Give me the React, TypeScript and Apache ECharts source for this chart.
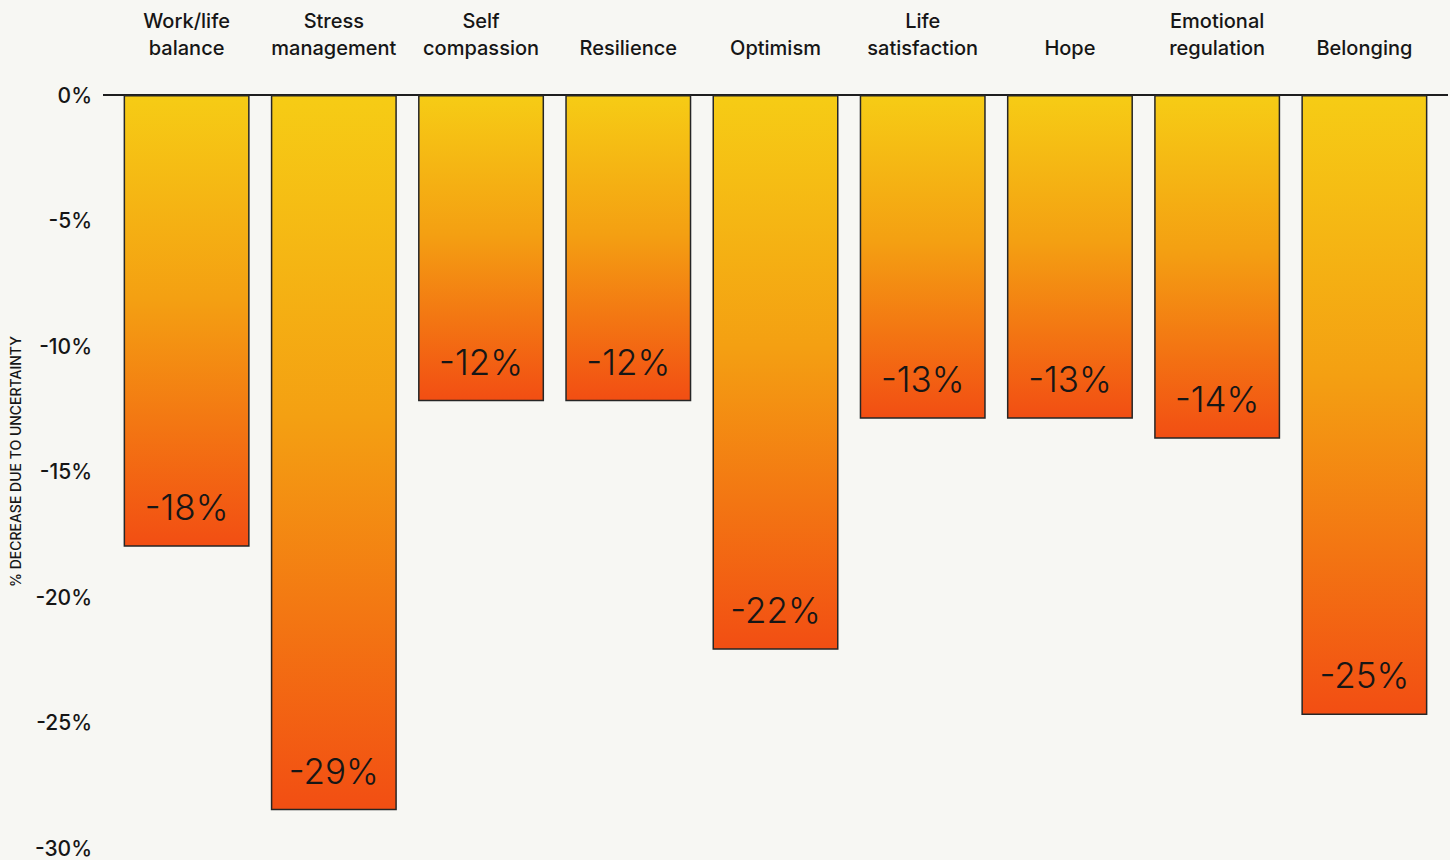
import React, { useEffect, useRef } from "react";
import * as echarts from "echarts";

// Wellbeing dimensions and the share each one dropped under uncertainty
const categories = [
  "Work/life\nbalance",
  "Stress\nmanagement",
  "Self\ncompassion",
  "Resilience",
  "Optimism",
  "Life\nsatisfaction",
  "Hope",
  "Emotional\nregulation",
  "Belonging",
];
const decreases = [-18.0, -28.5, -12.2, -12.2, -22.1, -12.9, -12.9, -13.7, -24.7];

const axisMin = -30;
const axisMax = 0;
const axisStep = 5;
const axisTitle = "% DECREASE DUE TO UNCERTAINTY";

const FONT = "Inter, 'Noto Sans', sans-serif";
const INK = "#161616";
const BG = "#f7f7f3";

export default function App() {
  const ref = useRef<HTMLDivElement>(null);

  useEffect(() => {
    if (!ref.current) return;
    const chart = echarts.init(ref.current, undefined, { renderer: "svg" });

    const barFill = new echarts.graphic.LinearGradient(0, 0, 0, 1, [
      { offset: 0, color: "#f6cc15" },
      { offset: 0.45, color: "#f4a012" },
      { offset: 1, color: "#f24e13" },
    ]);

    chart.setOption({
      animation: false,
      backgroundColor: BG,
      grid: {
        left: 113,
        right: 12,
        top: 95,
        bottom: 12,
        containLabel: false,
        outerBoundsMode: "none",
      },
      xAxis: {
        type: "category",
        position: "top",
        data: categories,
        axisLine: { show: false },
        axisTick: { show: false },
        axisLabel: {
          interval: 0,
          margin: 34,
          fontFamily: FONT,
          fontSize: 20,
          fontWeight: 500,
          lineHeight: 27,
          color: INK,
        },
      },
      yAxis: {
        type: "value",
        min: axisMin,
        max: axisMax,
        interval: axisStep,
        name: axisTitle,
        nameLocation: "middle",
        nameGap: 91,
        nameRotate: 90,
        nameTextStyle: {
          fontFamily: FONT,
          fontSize: 14,
          fontWeight: 500,
          color: INK,
          padding: [0, 0, 0, 20],
        },
        axisLine: { show: false },
        axisTick: { show: false },
        splitLine: { show: false },
        axisLabel: {
          margin: 21,
          fontFamily: FONT,
          fontSize: 21,
          fontWeight: 500,
          color: INK,
          formatter: (v: number) => `${v}%`,
        },
      },
      graphic: [
        {
          type: "line",
          z: 0,
          shape: { x1: 103, y1: 95, x2: 1448, y2: 95 },
          style: { stroke: "#1e1e1e", lineWidth: 2 },
        },
      ],
      series: [
        {
          type: "bar",
          data: decreases,
          barWidth: 126,
          z: 3,
          itemStyle: {
            color: barFill,
            borderColor: "#262626",
            borderWidth: 1.5,
          },
          label: {
            show: true,
            position: "insideBottom",
            distance: 22,
            fontFamily: FONT,
            fontSize: 35,
            fontWeight: 300,
            color: INK,
            formatter: (p: any) => `-${Math.round(Math.abs(p.value))}%`,
          },
        },
      ],
    });

    return () => chart.dispose();
  }, []);

  return (
    <div
      ref={ref}
      style={{ position: "fixed", left: 0, top: 0, width: 1450, height: 860, background: BG }}
    />
  );
}
